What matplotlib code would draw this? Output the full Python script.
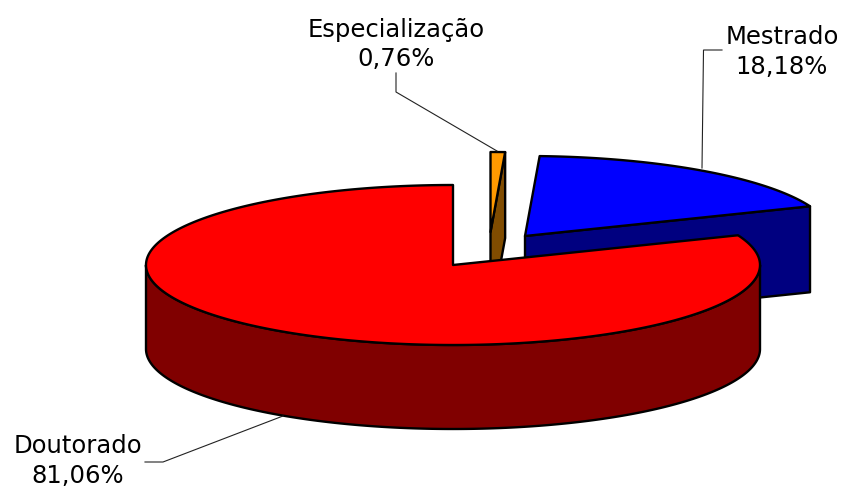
import numpy as np
import matplotlib
matplotlib.use("Agg")
import matplotlib.pyplot as plt
from matplotlib.patches import Polygon

categories = ["Doutorado", "Mestrado", "Especialização"]
values = [81.06, 18.18, 0.76]
labels = ["81,06%", "18,18%", "0,76%"]
top_colors = ["#ff0000", "#0000ff", "#ff9900"]
side_colors = ["#800000", "#000080", "#804c00"]

# pie geometry in pixels: centre of each exploded slice, radii, depth
centres = [(453, 265), (525, 236), (490.5, 232)]
RX, RY = 307, 80
depths = [84, 86, 86]
LW = 1.7

fig = plt.figure(figsize=(8.43, 4.88), dpi=100)
ax = fig.add_axes([0, 0, 1, 1])
ax.set_xlim(0, 843)
ax.set_ylim(488, 0)
ax.axis("off")


def rim(c, a0, a1):
    t = np.radians(np.linspace(a0, a1, max(int(abs(a1 - a0) * 2), 2) + 1))
    return np.column_stack([c[0] + RX * np.cos(t), c[1] - RY * np.sin(t)])


def poly(pts, color, z):
    ax.add_patch(Polygon(pts, closed=True, facecolor=color, edgecolor="black",
                         linewidth=LW, joinstyle="round", zorder=z))


# slices run counter-clockwise from 12 o'clock
total = sum(values)
starts = 90 + np.cumsum([0] + values[:-1]) / total * 360
ends = 90 + np.cumsum(values) / total * 360
a = dict(zip(categories, zip(starts, ends)))

# Mestrado: wall of the edge facing the viewer, then the top
c, d = centres[1], depths[1]
p = rim(c, a["Mestrado"][0], a["Mestrado"][0])[0]
poly([c, p, (p[0], p[1] + d), (c[0], c[1] + d)], side_colors[1], 1)
poly(np.vstack([[c], rim(c, *a["Mestrado"])]), top_colors[1], 2)

# Especialização: wall, then the top
c, d = centres[2], depths[2]
p = rim(c, a["Especialização"][0], a["Especialização"][0])[0]
poly([c, p, (p[0], p[1] + d), (c[0], c[1] + d)], side_colors[2], 3)
poly(np.vstack([[c], rim(c, *a["Especialização"])]), top_colors[2], 4)

# Doutorado: outer wall (front half of the rim), then the top
c, d = centres[0], depths[0]
front = rim(c, 180, 360)
poly(np.vstack([front, front[::-1] + [0, d]]), side_colors[0], 5)
poly(np.vstack([[c], rim(c, *a["Doutorado"])]), top_colors[0], 6)

# leader lines
leaders = [
    ([283, 163, 145], [416, 462, 462]),
    ([702, 703.5, 722], [168, 50, 50]),
    ([497, 396, 396], [151, 92, 73]),
]
for xs, ys in leaders:
    ax.plot(xs, ys, color="#222222", lw=0.8, zorder=7, solid_joinstyle="miter")

label_pos = [(77.5, 461), (782, 52), (396.5, 44.5)]
for name, lab, (x, y) in zip(categories, labels, label_pos):
    ax.text(x, y, f"{name}\n{lab}", ha="center", va="center", fontsize=17.5,
            family="DejaVu Sans", linespacing=1.29, color="black", zorder=8)

fig.savefig("out.png", dpi=100, facecolor="white")
